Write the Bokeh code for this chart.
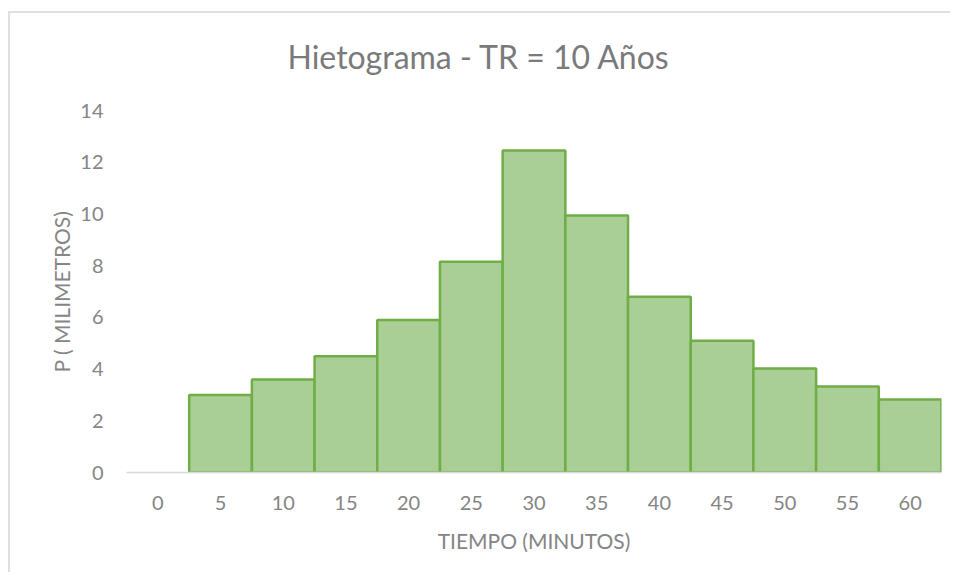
from bokeh.plotting import figure
from bokeh.models import ColumnDataSource, FixedTicker, Range1d
from bokeh.embed import file_html
from bokeh.resources import INLINE

# Data
tiempo = [0, 5, 10, 15, 20, 25, 30, 35, 40, 45, 50, 55, 60]
precip = [0.0, 3.0, 3.6, 4.5, 5.9, 8.15, 12.45, 9.94, 6.8, 5.1, 4.02, 3.33, 2.82]
y_ticks = [0, 2, 4, 6, 8, 10, 12, 14]

FONT = "Lato"
GRAY = "#858585"

nz = [(t, v) for t, v in zip(tiempo, precip) if v > 0]
src = ColumnDataSource(dict(x=[t for t, _ in nz], top=[v for _, v in nz]))

p = figure(width=942, height=572, output_backend="svg", toolbar_location=None,
           x_range=Range1d(-2.5, 62.5), y_range=Range1d(0, 14),
           min_border_left=118, min_border_right=9,
           min_border_top=110, min_border_bottom=100,
           title="Hietograma  - TR = 10 Años")

p.vbar(x="x", top="top", width=5, bottom=0, source=src,
       fill_color="#a9cf96", line_color="#70ad47", line_width=2.5)

p.title.align = "left"
p.title.offset = 161
p.title.text_font = FONT
p.title.text_font_size = "32px"
p.title.text_font_style = "normal"
p.title.text_color = "#7a7a7a"
p.title.standoff = 69

p.xgrid.visible = False
p.ygrid.visible = False
p.outline_line_color = None
p.border_fill_color = None

p.xaxis.ticker = FixedTicker(ticks=tiempo)
p.yaxis.ticker = FixedTicker(ticks=y_ticks)

for ax in (p.xaxis[0], p.yaxis[0]):
    ax.major_tick_line_color = None
    ax.minor_tick_line_color = None
    ax.major_label_text_font = FONT
    ax.major_label_text_font_size = "20px"
    ax.major_label_text_color = GRAY
    ax.axis_label_text_font = FONT
    ax.axis_label_text_font_size = "21px"
    ax.axis_label_text_font_style = "normal"
    ax.axis_label_text_color = GRAY

p.xaxis.axis_label = "TIEMPO (MINUTOS)"
p.yaxis.axis_label = "P ( MILIMETROS)"
p.xaxis.axis_line_color = "#d9d9d9"
p.xaxis.axis_line_width = 1.5
p.yaxis.axis_line_color = None
p.xaxis.major_label_standoff = 17
p.yaxis.major_label_standoff = 17
p.xaxis.axis_label_standoff = 15
p.yaxis.axis_label_standoff = 3

# light chart-area frame lines (top at 11px, left edge)
p.styles = {
    "margin-left": "8px",
    "background-color": "white",
    "background-image": "linear-gradient(#e0e0e0, #e0e0e0), linear-gradient(#e0e0e0, #e0e0e0)",
    "background-repeat": "no-repeat",
    "background-position": "0 11px, 0 11px",
    "background-size": "100% 2px, 2px 100%",
}

open("out.html", "w").write(file_html(p, INLINE))
